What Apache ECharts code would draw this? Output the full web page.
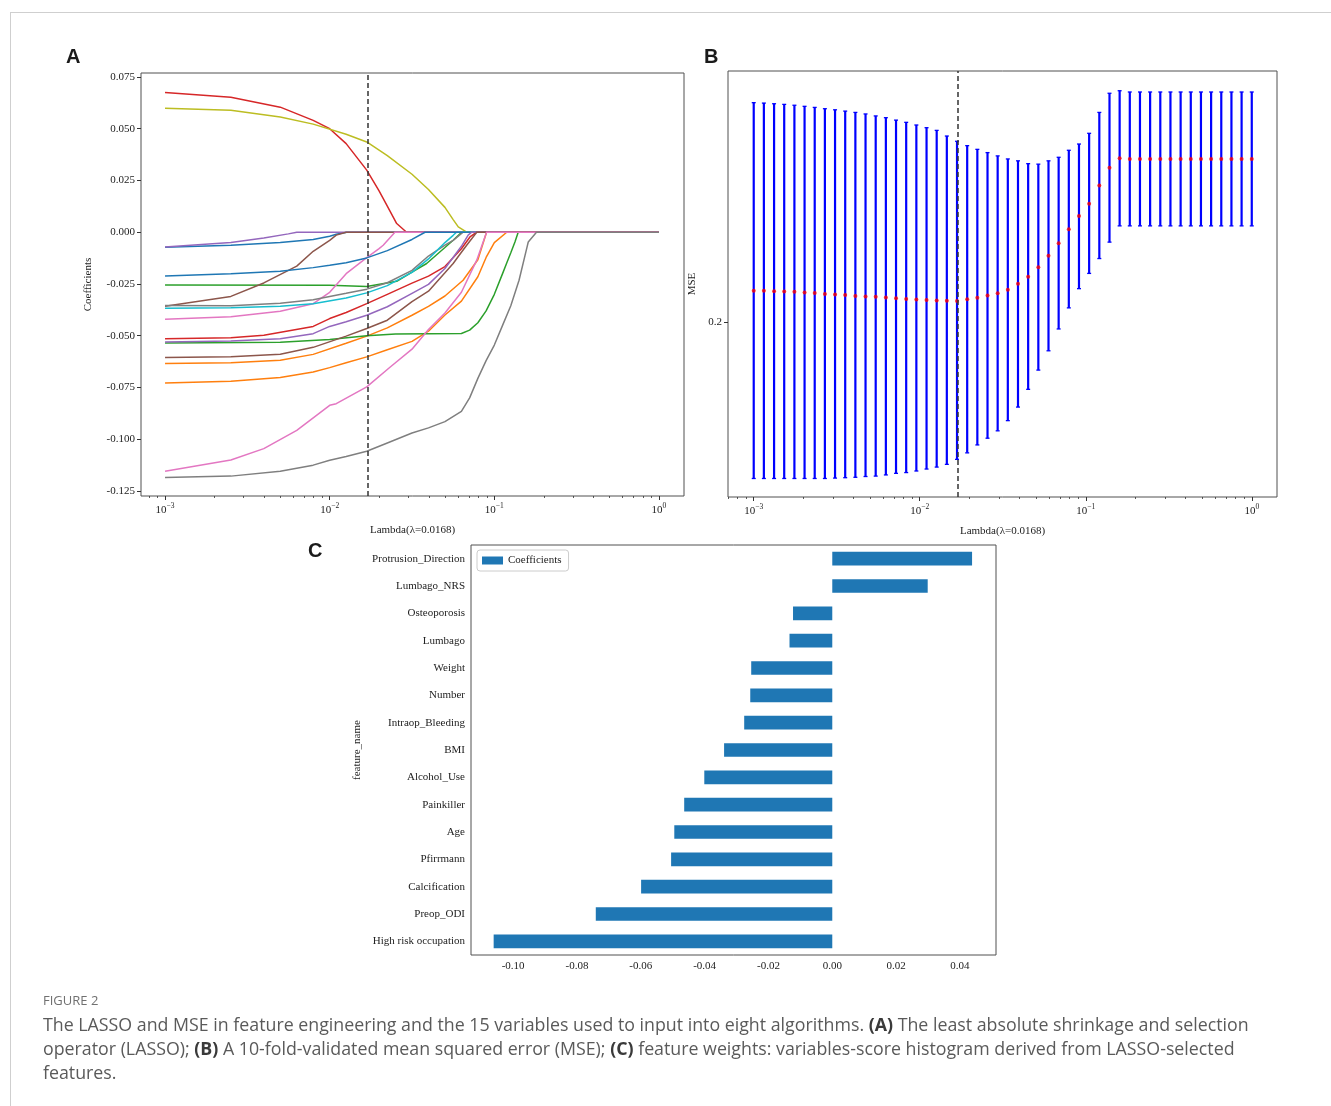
<!DOCTYPE html>
<html><head><meta charset="utf-8">
<script src="https://cdn.jsdelivr.net/npm/echarts@6/dist/echarts.min.js"></script>
<style>
html,body{margin:0;padding:0;background:#fff;}
#wrap{position:relative;width:1331px;height:1106px;overflow:hidden;background:#fff;}
#c{position:absolute;left:0;top:0;width:1331px;height:1106px;}
.frame{position:absolute;left:10px;top:12px;width:1330px;height:1100px;border-top:1px solid #cfcfcf;border-left:1px solid #cfcfcf;pointer-events:none;}
.pl{position:absolute;font-family:'Liberation Sans',Arial,sans-serif;font-weight:bold;font-size:20px;color:#1a1a1a;line-height:20px;}
#fig{position:absolute;left:43px;top:992px;font-family:'Open Sans',sans-serif;font-size:13px;color:#707070;line-height:16px;}
#cap{position:absolute;left:43px;top:1012px;font-family:'Open Sans',sans-serif;font-size:17px;line-height:24px;color:#5a5a5a;white-space:nowrap;}
#cap span{display:inline-block;}
#cap b{color:#3a3a3a;}
</style></head>
<body>
<div id="wrap">
<div id="c"></div>
<div class="frame"></div>
<div class="pl" style="left:66px;top:46px;">A</div>
<div class="pl" style="left:704px;top:46px;">B</div>
<div class="pl" style="left:308px;top:540px;">C</div>
<div id="fig">FIGURE 2</div>
<div id="cap"><span id="l1">The LASSO and MSE in feature engineering and the 15 variables used to input into eight algorithms. <b>(A)</b> The least absolute shrinkage and selection</span><br><span>operator (LASSO); <b>(B)</b> A 10-fold-validated mean squared error (MSE); <b>(C)</b> feature weights: variables-score histogram derived from LASSO-selected</span><br><span>features.</span></div>
</div>
<script>
// ---------------- Panel A: LASSO coefficient paths [lambda, coefficient] ----------------
const pathBlue1   = [[0.001,-0.0073],[0.00251,-0.0063],[0.00501,-0.0050],[0.00794,-0.0035],[0.01,-0.0019],[0.01096,-0.0010],[0.01268,0],[1,0]];
const pathOrange1 = [[0.001,-0.0634],[0.00251,-0.0630],[0.00501,-0.0618],[0.00794,-0.0590],[0.01259,-0.0536],[0.01679,-0.0502],[0.02239,-0.0462],[0.03162,-0.0401],[0.03981,-0.0358],[0.05012,-0.0308],[0.0646,-0.0232],[0.07943,-0.0133],[0.0897,0],[1,0]];
const pathGreen1  = [[0.001,-0.0255],[0.01,-0.0256],[0.01679,-0.0262],[0.02553,-0.0237],[0.03162,-0.0193],[0.03881,-0.0151],[0.05012,-0.0074],[0.05623,-0.0039],[0.06324,0],[1,0]];
const pathRed1    = [[0.001,0.0675],[0.00251,0.0652],[0.00501,0.0604],[0.00794,0.0540],[0.01,0.0500],[0.01259,0.0428],[0.01679,0.0300],[0.01995,0.0200],[0.02239,0.0126],[0.02553,0.0042],[0.02931,0],[1,0]];
const pathPurple1 = [[0.001,-0.0071],[0.00251,-0.0050],[0.00398,-0.0028],[0.00561,-0.0008],[0.00631,0],[1,0]];
const pathBrown1  = [[0.001,-0.0357],[0.00251,-0.0310],[0.00398,-0.0245],[0.00631,-0.0164],[0.00794,-0.0092],[0.01,-0.0039],[0.01096,-0.0014],[0.01259,0],[1,0]];
const pathPink1   = [[0.001,-0.0420],[0.00251,-0.0408],[0.00501,-0.0382],[0.00794,-0.0345],[0.01,-0.0290],[0.01259,-0.0200],[0.01679,-0.0123],[0.01995,-0.0079],[0.02113,-0.0063],[0.0249,0],[1,0]];
const pathGray1   = [[0.001,-0.0354],[0.00251,-0.0355],[0.00501,-0.0343],[0.00794,-0.0326],[0.01259,-0.0295],[0.01679,-0.0275],[0.02239,-0.0244],[0.03162,-0.0184],[0.03981,-0.0115],[0.05012,-0.0062],[0.05623,-0.0039],[0.0646,0],[1,0]];
const pathOlive   = [[0.001,0.0599],[0.00251,0.0589],[0.00501,0.0556],[0.00794,0.0522],[0.01259,0.0473],[0.01679,0.0436],[0.02239,0.0370],[0.03162,0.0280],[0.03981,0.0206],[0.05012,0.0120],[0.05623,0.0061],[0.0604,0.0026],[0.0679,0],[1,0]];
const pathCyan    = [[0.001,-0.0367],[0.00251,-0.0365],[0.00501,-0.0357],[0.00794,-0.0345],[0.01259,-0.0318],[0.01679,-0.0293],[0.02239,-0.0258],[0.03162,-0.0194],[0.03981,-0.0129],[0.05012,-0.0050],[0.05623,-0.0015],[0.0589,0],[1,0]];
const pathBlue2   = [[0.001,-0.0211],[0.00251,-0.0200],[0.00501,-0.0188],[0.00794,-0.0171],[0.01,-0.0160],[0.01259,-0.0147],[0.01679,-0.0124],[0.02239,-0.0089],[0.03162,-0.0035],[0.03793,0],[1,0]];
const pathOrange2 = [[0.001,-0.0728],[0.00251,-0.0720],[0.00501,-0.0702],[0.00794,-0.0675],[0.01,-0.0654],[0.01259,-0.0630],[0.01679,-0.0602],[0.02239,-0.0568],[0.03162,-0.0527],[0.03981,-0.0478],[0.05012,-0.0400],[0.0631,-0.0333],[0.07943,-0.0215],[0.08913,-0.0122],[0.1,-0.0050],[0.1189,0],[1,0]];
const pathGreen2  = [[0.001,-0.0535],[0.00501,-0.0531],[0.01,-0.0518],[0.01679,-0.0500],[0.02512,-0.0492],[0.0631,-0.0489],[0.07079,-0.0473],[0.07943,-0.0437],[0.08913,-0.0380],[0.1,-0.0300],[0.1122,-0.0200],[0.1186,-0.0151],[0.1259,-0.0099],[0.1334,-0.0047],[0.1396,0],[1,0]];
const pathRed2    = [[0.001,-0.0514],[0.00251,-0.0510],[0.00398,-0.0498],[0.00794,-0.0455],[0.01,-0.0417],[0.01259,-0.0388],[0.01679,-0.0345],[0.02239,-0.0300],[0.03162,-0.0246],[0.03981,-0.0212],[0.05012,-0.0166],[0.0631,-0.0080],[0.07112,-0.0023],[0.07816,0],[1,0]];
const pathPurple2 = [[0.001,-0.0530],[0.00251,-0.0525],[0.00501,-0.0515],[0.00794,-0.0490],[0.01,-0.0455],[0.01259,-0.0432],[0.01679,-0.0401],[0.02239,-0.0360],[0.03162,-0.0295],[0.03981,-0.0252],[0.05012,-0.0175],[0.0631,-0.0068],[0.06934,-0.0014],[0.07278,0],[1,0]];
const pathBrown2  = [[0.001,-0.0605],[0.00251,-0.0601],[0.00501,-0.0589],[0.00794,-0.0556],[0.01259,-0.0502],[0.01679,-0.0465],[0.02239,-0.0425],[0.03162,-0.0335],[0.03981,-0.0285],[0.05012,-0.0196],[0.05623,-0.0151],[0.0631,-0.0097],[0.06792,-0.0063],[0.07816,0],[1,0]];
const pathPink2   = [[0.001,-0.1155],[0.00251,-0.1100],[0.00398,-0.1045],[0.00631,-0.0957],[0.01,-0.0836],[0.01096,-0.0828],[0.01679,-0.0747],[0.02333,-0.0651],[0.03162,-0.0565],[0.03981,-0.0470],[0.05012,-0.0390],[0.0631,-0.0290],[0.0782,-0.0135],[0.0897,0],[1,0]];
const pathGray2   = [[0.001,-0.1185],[0.00251,-0.1178],[0.00501,-0.1155],[0.00794,-0.1125],[0.01,-0.1101],[0.01259,-0.1083],[0.01679,-0.1058],[0.02239,-0.1018],[0.03162,-0.0970],[0.03981,-0.0945],[0.05012,-0.0915],[0.0631,-0.0865],[0.07079,-0.0800],[0.07943,-0.0706],[0.08913,-0.0620],[0.1,-0.0545],[0.1122,-0.0450],[0.1259,-0.0355],[0.1413,-0.0232],[0.1585,-0.0067],[0.1607,-0.0047],[0.1803,0],[1,0]];

const pathsA = [pathBlue1,pathOrange1,pathGreen1,pathRed1,pathPurple1,pathBrown1,pathPink1,pathGray1,pathOlive,pathCyan,
                pathBlue2,pathOrange2,pathGreen2,pathRed2,pathPurple2,pathBrown2,pathPink2,pathGray2];
const colorsA = ['#1f77b4','#ff7f0e','#2ca02c','#d62728','#9467bd','#8c564b','#e377c2','#7f7f7f','#bcbd22','#17becf'];
const lambdaBest = 0.0168;
const yTicksA = [-0.125,-0.100,-0.075,-0.050,-0.025,0.000,0.025,0.050,0.075];
const decadeTicks = [0.001,0.01,0.1,1];

// ---------------- Panel B: 10-fold CV MSE ----------------
const lambdaB = [0.001,0.001151,0.001326,0.001526,0.001758,0.002024,0.00233,0.002683,0.003089,0.003556,
  0.004095,0.004715,0.005429,0.006251,0.007197,0.008286,0.009541,0.01099,0.01265,0.01456,
  0.01677,0.01931,0.02223,0.0256,0.02947,0.03393,0.03907,0.04498,0.0518,0.05964,
  0.06866,0.07906,0.09103,0.1048,0.1207,0.139,0.16,0.1842,0.2121,0.2442,
  0.2812,0.3237,0.3728,0.4292,0.4942,0.569,0.6551,0.7543,0.8685,1.0];
const mseMean = [0.2105,0.2105,0.2103,0.2102,0.2101,0.2099,0.2097,0.2094,0.2092,0.2090,
  0.2087,0.2085,0.2084,0.2082,0.2079,0.2077,0.2075,0.2073,0.2072,0.2071,
  0.2070,0.2076,0.2081,0.2089,0.2096,0.2108,0.2129,0.2153,0.2187,0.2228,
  0.2274,0.2326,0.2377,0.2425,0.2498,0.2571,0.2611,0.2608,0.2608,0.2608,
  0.2608,0.2608,0.2608,0.2608,0.2608,0.2608,0.2608,0.2608,0.2608,0.2608];
const mseUpper = [0.2858,0.2856,0.2853,0.2850,0.2846,0.2841,0.2836,0.2830,0.2825,0.2819,
  0.2813,0.2806,0.2797,0.2789,0.2778,0.2768,0.2756,0.2744,0.2732,0.2707,
  0.2684,0.2665,0.2649,0.2635,0.2621,0.2608,0.2600,0.2588,0.2586,0.2600,
  0.2615,0.2645,0.2672,0.2719,0.2813,0.2902,0.2914,0.2908,0.2908,0.2908,
  0.2908,0.2908,0.2908,0.2908,0.2908,0.2908,0.2908,0.2908,0.2908,0.2908];
const mseLower = [0.1551,0.1551,0.1551,0.1551,0.1551,0.1551,0.1551,0.1551,0.1552,0.1553,
  0.1554,0.1556,0.1557,0.1560,0.1564,0.1566,0.1570,0.1575,0.1580,0.1587,
  0.1600,0.1617,0.1638,0.1656,0.1676,0.1704,0.1742,0.1793,0.1850,0.1909,
  0.1978,0.2047,0.2112,0.2165,0.2218,0.2278,0.2339,0.2339,0.2339,0.2339,
  0.2339,0.2339,0.2339,0.2339,0.2339,0.2339,0.2339,0.2339,0.2339,0.2339];
const yTicksB = [0.2];

// ---------------- Panel C: LASSO feature weights ----------------
const featureNames = ['Protrusion_Direction','Lumbago_NRS','Osteoporosis','Lumbago','Weight','Number','Intraop_Bleeding','BMI',
  'Alcohol_Use','Painkiller','Age','Pfirrmann','Calcification','Preop_ODI','High risk occupation'];
const featureCoefs = [0.0438,0.0299,-0.0123,-0.0134,-0.0254,-0.0257,-0.0276,-0.0339,-0.0401,-0.0464,-0.0495,-0.0505,-0.0599,-0.0741,-0.1061];
const xTicksC = [-0.10,-0.08,-0.06,-0.04,-0.02,0.00,0.02,0.04];

// ---------------- build ----------------
const serif = "'Liberation Serif','Times New Roman',serif";
const txt = '#222';
const lg = Math.log10;

function minorList(lo, hi){
  const out=[];
  for(let d=-4; d<=1; d++){ for(let k=2;k<=9;k++){ const v=d+lg(k); if(v>lo && v<hi) out.push(v);} }
  return out;
}
function expFmt(v){ const e=Math.round(v); return '{b|10}{s|'+(e<0?'\u2212'+(-e):String(e))+'}'; }
const expRich = {b:{fontFamily:serif,fontSize:11,color:txt}, s:{fontFamily:serif,fontSize:7.5,color:txt,padding:[0,0,8,0]}};
const noLine = {show:false, onZero:false};

function majorLogX(grid, lo, hi){
  const cv = decadeTicks.map(lg);
  return {type:'value', gridIndex:grid, position:'bottom', min:lo, max:hi, axisLine:noLine, splitLine:{show:false},
    axisTick:{show:true, customValues:cv, length:4, lineStyle:{color:'#333',width:1}},
    axisLabel:{customValues:cv, formatter:expFmt, rich:expRich, margin:6},
    name:'Lambda(\u03bb=0.0168)', nameLocation:'middle', nameGap:29,
    nameTextStyle:{fontFamily:serif,fontSize:11,color:txt}};
}
function minorLogX(grid, lo, hi){
  return {type:'value', gridIndex:grid, position:'bottom', offset:0, min:lo, max:hi, axisLine:noLine, splitLine:{show:false},
    axisTick:{show:true, customValues:minorList(lo,hi), length:2, lineStyle:{color:'#333',width:0.8}},
    axisLabel:{show:false}};
}

const aLo=-3.146, aHi=0.152, bLo=-3.155, bHi=0.152;
const gridStyle = {show:true, borderColor:'#505050', borderWidth:1, backgroundColor:'#fff'};

const series = [];
pathsA.forEach((p,i)=>{
  series.push({type:'line', xAxisIndex:0, yAxisIndex:0, showSymbol:false, symbol:'none',
    data:p.map(d=>[lg(d[0]), d[1]]), lineStyle:{width:1.5, color:colorsA[i%10]}, itemStyle:{color:colorsA[i%10]}, z:2});
});
series.push({type:'line', xAxisIndex:0, yAxisIndex:0, data:[], symbol:'none', z:5,
  markLine:{silent:true, symbol:'none', label:{show:false}, lineStyle:{type:[5,3], color:'#333', width:1.5},
    data:[{xAxis:lg(lambdaBest)}]}});

// error bars for panel B
const errData = lambdaB.map((l,i)=>[lg(l), lg(mseLower[i]), lg(mseUpper[i])]);
series.push({type:'custom', xAxisIndex:2, yAxisIndex:1, data:errData, z:2,
  encode:{x:0, y:[1,2]},
  renderItem:function(params, api){
    const x=api.value(0);
    const p1=api.coord([x, api.value(1)]), p2=api.coord([x, api.value(2)]);
    const cw=2;
    const st={stroke:'#0000ff', lineWidth:2.2};
    const cs={stroke:'#0000ff', lineWidth:1.3};
    return {type:'group', children:[
      {type:'line', shape:{x1:p1[0],y1:p1[1],x2:p2[0],y2:p2[1]}, style:st},
      {type:'line', shape:{x1:p1[0]-cw,y1:p1[1],x2:p1[0]+cw,y2:p1[1]}, style:cs},
      {type:'line', shape:{x1:p2[0]-cw,y1:p2[1],x2:p2[0]+cw,y2:p2[1]}, style:cs}
    ]};
  }});
series.push({type:'scatter', xAxisIndex:2, yAxisIndex:1, symbolSize:4, z:3,
  data:lambdaB.map((l,i)=>[lg(l), lg(mseMean[i])]), itemStyle:{color:'#ff0000'}});
series.push({type:'line', xAxisIndex:2, yAxisIndex:1, data:[], symbol:'none', z:5,
  markLine:{silent:true, symbol:'none', label:{show:false}, lineStyle:{type:[5,3], color:'#333', width:1.5},
    data:[{xAxis:lg(lambdaBest)}]}});

// panel C bars
series.push({type:'bar', name:'Coefficients', xAxisIndex:4, yAxisIndex:2, data:featureCoefs, barWidth:'50%',
  itemStyle:{color:'#1f77b4'}});

const option = {
  animation:false,
  backgroundColor:'transparent',
  grid:[
    Object.assign({left:141, top:73, width:543, height:423}, gridStyle),
    Object.assign({left:728, top:71, width:549, height:426}, gridStyle),
    Object.assign({left:471, top:545, width:525, height:410}, gridStyle)
  ],
  legend:{data:['Coefficients'], left:477, top:550, icon:'rect', itemWidth:21, itemHeight:8, itemGap:8,
    borderColor:'#cccccc', borderWidth:1, borderRadius:3, padding:[5,7,5,5], backgroundColor:'#fff',
    textStyle:{fontFamily:serif, fontSize:11, color:txt}},
  xAxis:[
    majorLogX(0,aLo,aHi), minorLogX(0,aLo,aHi),
    majorLogX(1,bLo,bHi), minorLogX(1,bLo,bHi),
    {type:'value', gridIndex:2, position:'bottom', min:-0.1132, max:0.0513, axisLine:noLine, splitLine:{show:false},
     axisTick:{customValues:xTicksC, length:4, lineStyle:{color:'#333'}},
     axisLabel:{customValues:xTicksC, formatter:v=>(Math.abs(v)<1e-9?0:v).toFixed(2), fontFamily:serif, fontSize:11, color:txt, margin:6}}
  ],
  yAxis:[
    {type:'value', gridIndex:0, position:'left', min:-0.1274, max:0.0769, axisLine:noLine, splitLine:{show:false},
     axisTick:{customValues:yTicksA, length:4, lineStyle:{color:'#333'}},
     axisLabel:{customValues:yTicksA, formatter:v=>(Math.abs(v)<1e-9?0:v).toFixed(3), fontFamily:serif, fontSize:11, color:txt, margin:6},
     name:'Coefficients', nameLocation:'middle', nameGap:47, nameRotate:90,
     nameTextStyle:{fontFamily:serif, fontSize:11, color:txt}},
    {type:'value', gridIndex:1, position:'left', min:lg(0.1505), max:lg(0.3009), axisLine:noLine, splitLine:{show:false},
     axisTick:{customValues:yTicksB.map(lg), length:4, lineStyle:{color:'#333'}},
     axisLabel:{customValues:yTicksB.map(lg), formatter:v=>String(Math.round(Math.pow(10,v)*10)/10), fontFamily:serif, fontSize:11, color:txt, margin:6},
     name:'MSE', nameLocation:'middle', nameGap:30, nameRotate:90,
     nameTextStyle:{fontFamily:serif, fontSize:11, color:txt}},
    {type:'category', gridIndex:2, position:'left', data:featureNames, inverse:true, axisLine:noLine,
     axisTick:{alignWithLabel:true, length:4, lineStyle:{color:'#333'}},
     axisLabel:{fontFamily:serif, fontSize:11, color:txt, margin:6},
     name:'feature_name', nameLocation:'middle', nameGap:108, nameRotate:90,
     nameTextStyle:{fontFamily:serif, fontSize:11, color:txt}}
  ],
  series:series
};

const chart = echarts.init(document.getElementById('c'), null, {renderer:'canvas', width:1331, height:1106});
chart.setOption(option);

// fit caption width to reference line length
const l1 = document.getElementById('l1');
const w = l1.getBoundingClientRect().width;
if (w>0){ const cap=document.getElementById('cap'); cap.style.fontSize=(17*1207/w).toFixed(2)+'px'; }
</script>
</body></html>
